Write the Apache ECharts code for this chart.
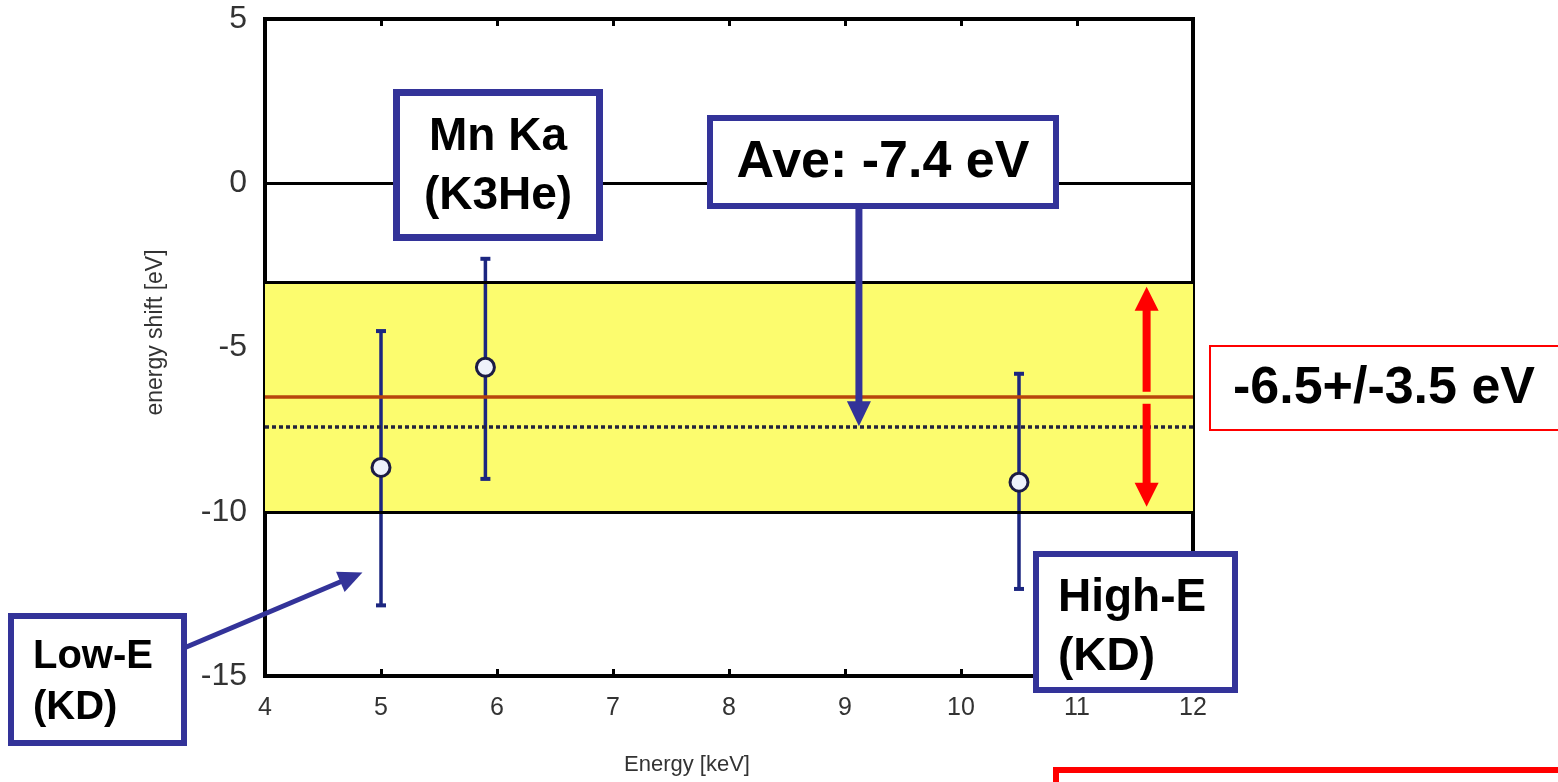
<!DOCTYPE html>
<html>
<head>
<meta charset="utf-8">
<title>Energy shift vs energy</title>
<script src="https://cdn.jsdelivr.net/npm/echarts@6/dist/echarts.min.js"></script>
<style>
  html, body { margin: 0; padding: 0; background: #fff; }
  #chart { width: 1558px; height: 782px; }
</style>
</head>
<body>
<div id="chart"></div>
<script>
// Measured line energies [keV] and their energy shifts [eV]
const energies = [5.0, 5.9, 10.5];
const shifts = [-8.65, -5.6, -9.1];
const errLow = [-12.85, -9.0, -12.35];
const errHigh = [-4.5, -2.3, -5.8];

// Combined estimate: centre and half-width of the shaded band, and the plain average
const bandCenter = -6.5;
const bandHalfWidth = 3.5;
const averageShift = -7.4;

// Axis ranges [min, max, interval]
const xRange = [4, 12, 1];
const yRange = [-15, 5, 5];

const bandTop = bandCenter + bandHalfWidth;
const bandBottom = bandCenter - bandHalfWidth;

const NAVY = '#333399';
const RED = '#ff0000';
const FONT = 'Liberation Sans, Arial, sans-serif';

const chart = echarts.init(document.getElementById('chart'), null, { renderer: 'canvas' });

const axisTick = { show: true, inside: true, length: 7, lineStyle: { color: '#000', width: 3 } };
const noLine = { show: false, onZero: false };

const option = {
  animation: false,
  backgroundColor: '#fff',
  grid: {
    show: true, left: 265, right: 365, top: 19, bottom: 106,
    borderColor: '#000', borderWidth: 4, backgroundColor: 'transparent'
  },
  xAxis: [{
    type: 'value', min: xRange[0], max: xRange[1], interval: xRange[2],
    position: 'bottom',
    axisLine: noLine, splitLine: { show: false }, axisTick,
    axisLabel: { color: '#333', fontSize: 25, fontFamily: FONT, margin: 20 },
    name: 'Energy [keV]', nameLocation: 'middle', nameGap: 78,
    nameTextStyle: { color: '#333', fontSize: 22, fontFamily: FONT, padding: [0, 84, 0, 0] }
  }, {
    type: 'value', min: xRange[0], max: xRange[1], interval: xRange[2],
    position: 'top', axisLine: noLine, splitLine: { show: false },
    axisTick, axisLabel: { show: false }
  }],
  yAxis: [{
    type: 'value', min: yRange[0], max: yRange[1], interval: yRange[2],
    position: 'left',
    axisLine: noLine, splitLine: { show: false }, axisTick,
    axisLabel: { color: '#333', fontSize: 32, fontFamily: FONT, margin: 18 },
    name: 'energy shift [eV]', nameLocation: 'middle', nameGap: 98, nameRotate: 90,
    nameTextStyle: { color: '#333', fontSize: 23, fontFamily: FONT, padding: [0, 0, 0, 30] }
  }, {
    type: 'value', min: yRange[0], max: yRange[1], interval: yRange[2],
    position: 'right', axisLine: noLine, splitLine: { show: false },
    axisTick, axisLabel: { show: false }
  }],
  series: [
    {
      // Band, reference lines at zero, band edges, centre and average
      type: 'line', data: [], silent: true, z: 1,
      markArea: {
        silent: true,
        itemStyle: { color: '#fcfc6e' },
        data: [[{ yAxis: bandTop }, { yAxis: bandBottom }]]
      },
      markLine: {
        silent: true, symbol: 'none', label: { show: false },
        data: [
          { yAxis: 0, lineStyle: { color: '#000', width: 3, type: 'solid' } },
          { yAxis: bandTop, lineStyle: { color: '#000', width: 3, type: 'solid' } },
          { yAxis: bandBottom, lineStyle: { color: '#000', width: 3, type: 'solid' } },
          { yAxis: bandCenter, lineStyle: { color: '#b8460c', width: 3.5, type: 'solid' } },
          { yAxis: averageShift, lineStyle: { color: '#24243c', width: 3.5, type: [4, 3] } }
        ]
      }
    },
    {
      // Vertical error bars with caps
      type: 'custom', z: 3,
      data: energies.map((e, i) => [e, errLow[i], errHigh[i]]),
      renderItem: function (params, api) {
        const lo = api.coord([api.value(0), api.value(1)]);
        const hi = api.coord([api.value(0), api.value(2)]);
        const cap = 5;
        const col = '#1c2680';
        return {
          type: 'group',
          children: [
            { type: 'line', shape: { x1: lo[0], y1: lo[1], x2: hi[0], y2: hi[1] }, style: { stroke: col, lineWidth: 3.5 } },
            { type: 'line', shape: { x1: lo[0] - cap, y1: lo[1], x2: lo[0] + cap, y2: lo[1] }, style: { stroke: col, lineWidth: 4 } },
            { type: 'line', shape: { x1: hi[0] - cap, y1: hi[1], x2: hi[0] + cap, y2: hi[1] }, style: { stroke: col, lineWidth: 4 } }
          ]
        };
      }
    },
    {
      type: 'scatter', z: 4,
      data: energies.map((e, i) => [e, shifts[i]]),
      symbol: 'circle', symbolSize: 18,
      itemStyle: { color: '#eef2fb', borderColor: '#1c1c44', borderWidth: 3, opacity: 1 }
    }
  ]
};

chart.setOption(option);

// ---- Callouts ----
function px(x, y) { return chart.convertToPixel({ gridIndex: 0 }, [x, y]); }

function arrow(x1, y1, x2, y2, color, shaftW, headL, headW) {
  const dx = x2 - x1, dy = y2 - y1;
  const len = Math.sqrt(dx * dx + dy * dy);
  const ux = dx / len, uy = dy / len;
  const bx = x2 - ux * headL, by = y2 - uy * headL;
  const nx = -uy, ny = ux;
  return [
    { type: 'line', z: 20, shape: { x1, y1, x2: bx + ux, y2: by + uy }, style: { stroke: color, lineWidth: shaftW } },
    { type: 'polygon', z: 20, shape: { points: [[x2, y2], [bx + nx * headW / 2, by + ny * headW / 2], [bx - nx * headW / 2, by - ny * headW / 2]] }, style: { fill: color } }
  ];
}

function box(x, y, w, h, color, lw) {
  return { type: 'rect', z: 21, shape: { x, y, width: w, height: h }, style: { fill: '#fff', stroke: color, lineWidth: lw } };
}

function label(text, x, y, size, align) {
  return {
    type: 'text', z: 22, x, y,
    style: { text, fill: '#000', font: 'bold ' + size + 'px ' + FONT, align: align || 'center', verticalAlign: 'middle' }
  };
}

const g = [];

// Average arrow
const aveTip = px(9.12, averageShift);
g.push(...arrow(aveTip[0], 209, aveTip[0], aveTip[1], NAVY, 7, 25, 24));

// Low-E arrow pointing at the first bar
const lowTip = px(4.84, -11.85);
g.push(...arrow(184, 648, lowTip[0], lowTip[1], NAVY, 5, 24, 22));

// Red double arrow spanning the band
const rTop = px(11.6, bandTop), rBot = px(11.6, bandBottom), rMid = px(11.6, bandCenter);
g.push(...arrow(rMid[0], rMid[1] - 5, rTop[0], rTop[1] + 5, RED, 8, 24, 24));
g.push(...arrow(rMid[0], rMid[1] + 7, rBot[0], rBot[1] - 5, RED, 8, 24, 24));

// Boxes and texts
g.push(box(396.5, 92.5, 203, 145, NAVY, 7));
g.push(label('Mn Ka', 498, 137, 46));
g.push(label('(K3He)', 498, 196, 46));

g.push(box(710, 118, 346, 88, NAVY, 6));
g.push(label('Ave: -7.4 eV', 883, 163, 52));

g.push(box(11, 616, 173, 127, NAVY, 6));
g.push(label('Low-E', 33, 657, 40, 'left'));
g.push(label('(KD)', 33, 708, 40, 'left'));

g.push(box(1036, 554, 199, 136, NAVY, 6));
g.push(label('High-E', 1058, 598, 46, 'left'));
g.push(label('(KD)', 1058, 657, 46, 'left'));

g.push(box(1210, 346, 360, 84, RED, 2));
g.push(label('-6.5+/-3.5 eV', 1384, 389, 52));

g.push({ type: 'rect', z: 21, shape: { x: 1056, y: 770, width: 520, height: 40 }, style: { fill: 'none', stroke: RED, lineWidth: 6 } });

chart.setOption({ graphic: { elements: g } });
</script>
</body>
</html>
